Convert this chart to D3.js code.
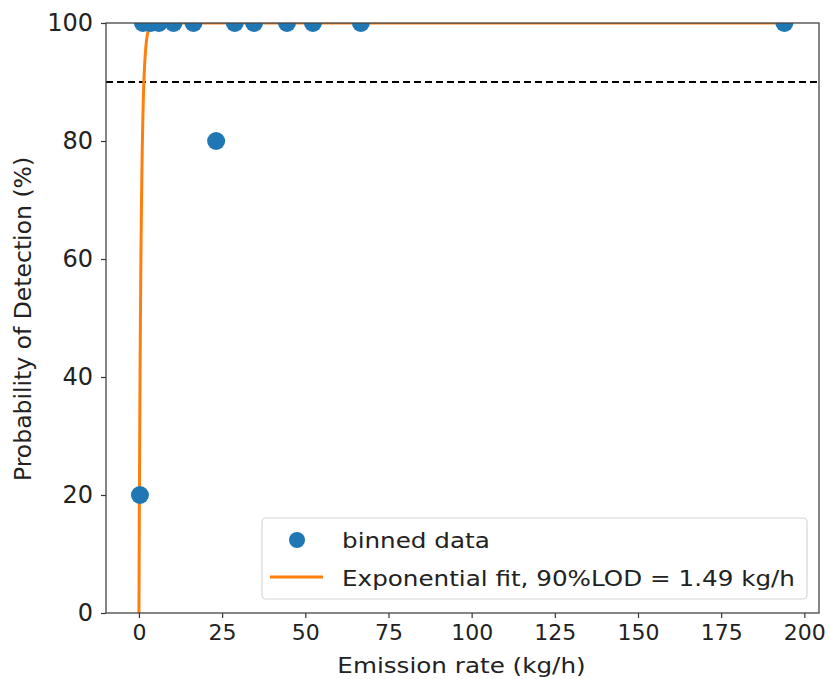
<!DOCTYPE html>
<html>
<head>
<meta charset="utf-8">
<script src="https://cdn.jsdelivr.net/npm/d3@7"></script>
<style>
  body { margin: 0; background: #fff; }
  svg text { font-family: "DejaVu Sans", sans-serif; fill: #222; }
</style>
</head>
<body>
<svg id="chart" width="829" height="679"></svg>
<script>
// binned detection data (kg/h, %)
var rates = [0.3, 1.2, 3.5, 6.0, 10.4, 16.4, 23.2, 28.8, 34.6, 44.5, 52.3, 66.7, 194.0];
var pods  = [20, 100, 100, 100, 100, 100, 80, 100, 100, 100, 100, 100, 100];

var lod90 = 1.49;          // fit result, kg/h
var threshold = 90;        // dashed reference line, %
var xTicks = [0, 25, 50, 75, 100, 125, 150, 175, 200];
var yTicks = [0, 20, 40, 60, 80, 100];

var pLeft = 106, pRight = 819, pTop = 23, pBottom = 613;
var wide = 1.12;   // text in the source is drawn a little wider than the font

var svg = d3.select('#chart');

var x = d3.scaleLinear().domain([-9.9, 204.4]).range([pLeft, pRight]);
var y = d3.scaleLinear().domain([0, 100]).range([pBottom, pTop]);

svg.append('defs').append('clipPath')
    .attr('id', 'plot-clip')
  .append('rect')
    .attr('x', pLeft)
    .attr('y', pTop)
    .attr('width', pRight - pLeft)
    .attr('height', pBottom - pTop);

var plot = svg.append('g').attr('clip-path', 'url(#plot-clip)');

// 90% line
plot.append('line')
    .attr('x1', pLeft)
    .attr('x2', pRight)
    .attr('y1', y(threshold))
    .attr('y2', y(threshold))
    .attr('stroke', '#000')
    .attr('stroke-width', 2)
    .attr('stroke-dasharray', '7,4');

// exponential fit: POD = 100 * (1 - exp(-k x)), with k from the 90% LOD
var k = Math.log(10) / lod90;
var fitX = d3.range(0, 3, 0.01).concat(d3.range(3, 195, 1));
var line = d3.line()
    .x(function(d) { return x(d); })
    .y(function(d) { return y(100 * (1 - Math.exp(-k * d))); });

plot.append('path')
    .datum(fitX)
    .attr('d', line)
    .attr('fill', 'none')
    .attr('stroke', '#ff7f0e')
    .attr('stroke-width', 3);

plot.selectAll('circle.pt')
    .data(d3.zip(rates, pods))
  .enter().append('circle')
    .attr('class', 'pt')
    .attr('cx', function(d) { return x(d[0]); })
    .attr('cy', function(d) { return y(d[1]); })
    .attr('r', 9)
    .attr('fill', '#1f77b4');

// axes
var xAxis = svg.append('g')
    .attr('transform', 'translate(0,' + pBottom + ')')
    .call(d3.axisBottom(x).tickValues(xTicks).tickSize(5).tickPadding(6).tickFormat(d3.format('d')));
var yAxis = svg.append('g')
    .attr('transform', 'translate(' + pLeft + ',0)')
    .call(d3.axisLeft(y).tickValues(yTicks).tickSize(5).tickPadding(8).tickFormat(d3.format('d')));

[xAxis, yAxis].forEach(function(a) {
  a.select('.domain').remove();
  a.selectAll('.tick line').attr('stroke', '#333').attr('stroke-width', 1.2);
});
xAxis.selectAll('.tick text').attr('font-size', 22).attr('fill', '#222');
yAxis.selectAll('.tick text').attr('font-size', 24).attr('fill', '#222');

// frame
svg.append('rect')
    .attr('x', pLeft)
    .attr('y', pTop)
    .attr('width', pRight - pLeft)
    .attr('height', pBottom - pTop)
    .attr('fill', 'none')
    .attr('stroke', '#444')
    .attr('stroke-width', 1.3);

// labels
svg.append('text')
    .attr('transform', 'translate(' + ((pLeft + pRight) / 2 - 1) + ',673) scale(' + wide + ',1)')
    .attr('text-anchor', 'middle')
    .attr('font-size', 22)
    .text('Emission rate (kg/h)');

svg.append('text')
    .attr('transform', 'translate(31,' + ((pTop + pBottom) / 2 + 1) + ') rotate(-90)')
    .attr('text-anchor', 'middle')
    .attr('font-size', 23.5)
    .text('Probability of Detection (%)');

// legend
var lg = svg.append('g');
lg.append('rect')
    .attr('x', 262)
    .attr('y', 518)
    .attr('width', 545)
    .attr('height', 81)
    .attr('rx', 4)
    .attr('fill', '#fff')
    .attr('fill-opacity', 0.8)
    .attr('stroke', '#d6d6d6')
    .attr('stroke-width', 1.2);
lg.append('circle')
    .attr('cx', 297)
    .attr('cy', 540)
    .attr('r', 8)
    .attr('fill', '#1f77b4');
lg.append('line')
    .attr('x1', 270)
    .attr('x2', 323)
    .attr('y1', 577)
    .attr('y2', 577)
    .attr('stroke', '#ff7f0e')
    .attr('stroke-width', 3);
lg.append('text')
    .attr('transform', 'translate(342,548) scale(' + wide + ',1)')
    .attr('font-size', 22)
    .text('binned data');
lg.append('text')
    .attr('transform', 'translate(342,586) scale(' + wide + ',1)')
    .attr('font-size', 22)
    .text('Exponential fit, 90%LOD = ' + lod90 + ' kg/h');
</script>
</body>
</html>
